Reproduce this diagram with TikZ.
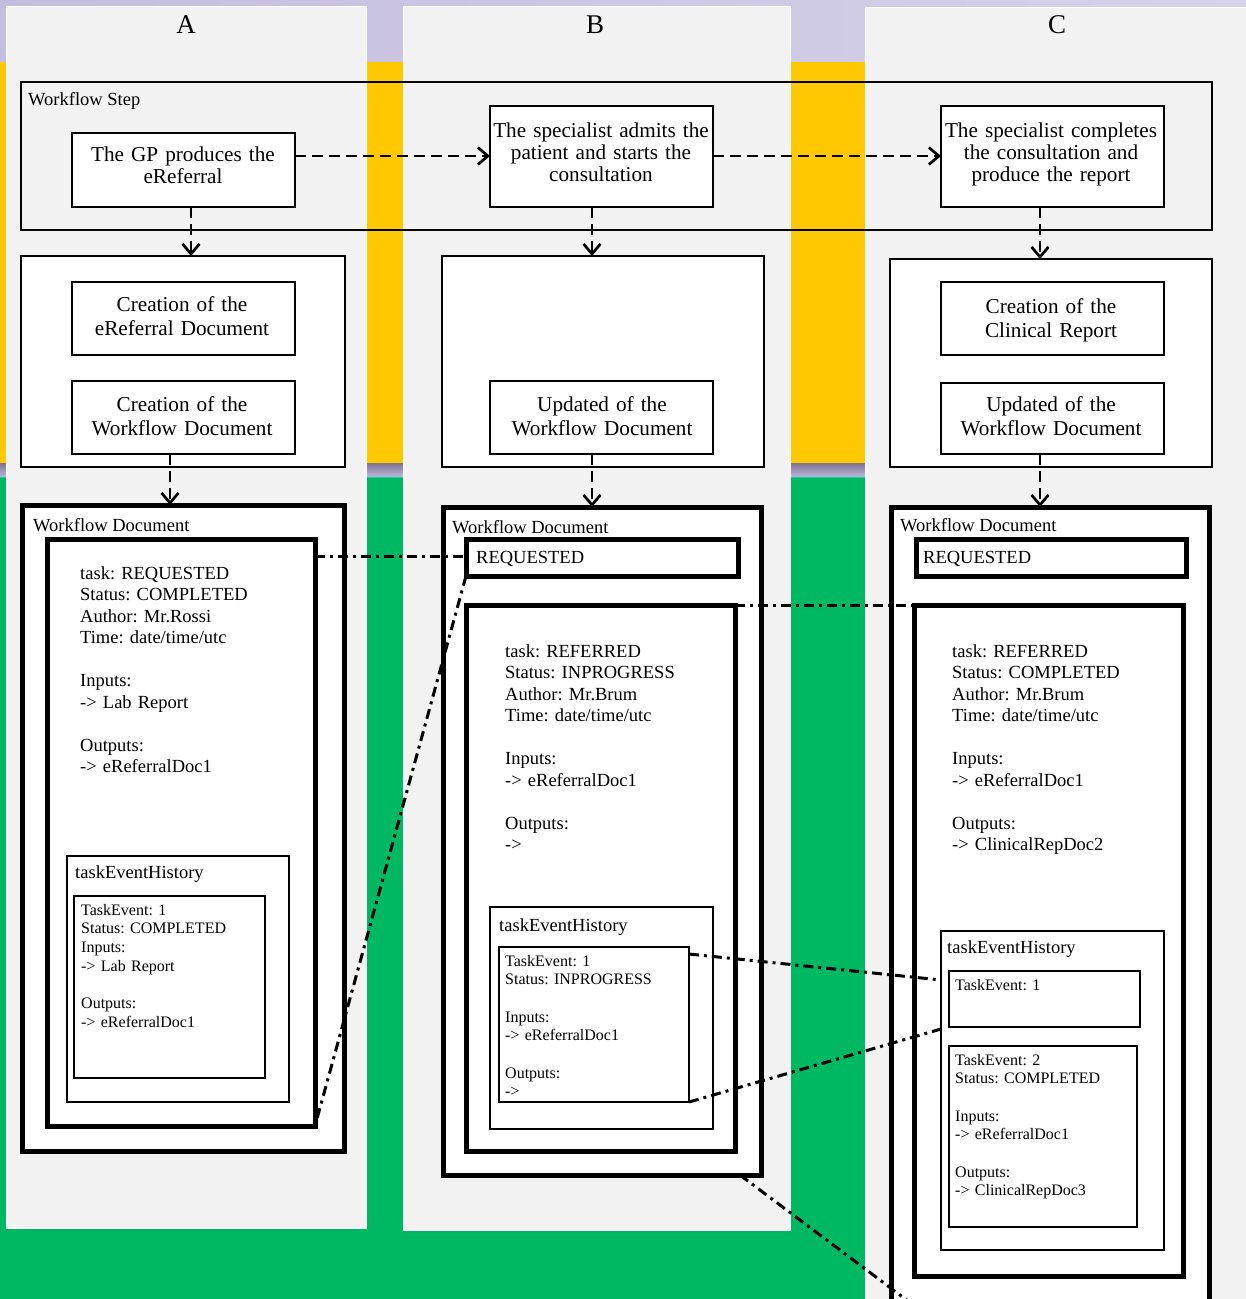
\documentclass[tikz,border=0pt]{standalone}
\usepackage{fontspec}
\setmainfont{Liberation Serif}
\usetikzlibrary{arrows.meta,calc}
\definecolor{lav}{RGB}{196,190,222}
\definecolor{lavb}{RGB}{214,210,233}
\definecolor{yel}{RGB}{255,200,0}
\definecolor{grn}{RGB}{0,184,98}
\definecolor{colg}{RGB}{242,242,242}
\definecolor{bandtop}{RGB}{125,116,145}
\definecolor{bandbot}{RGB}{190,182,218}
\definecolor{cyanl}{RGB}{20,210,160}
\newcommand\mybox[6]{\node[#1, minimum width={#4-#2}, minimum height={#5-#3}] (#6) at (#2,#3) {};}
\frenchspacing
\begin{document}
\begin{tikzpicture}[x=1pt,y=-1pt,
  thinbox/.style={rectangle, draw=black, fill=white, line width=2.7pt, inner sep=0pt, outer sep=0pt, anchor=north west},
  thickbox/.style={thinbox, line width=5pt},
  wsbox/.style={rectangle, draw=black, line width=2.4pt, inner sep=0pt, outer sep=0pt, anchor=north west},
  steptxt/.style={inner sep=0pt, anchor=base, align=center, text width=224pt, font=\fontsize{21.2}{22.3}\selectfont},
  steptxtb/.style={steptxt, font=\fontsize{21.2}{24}\selectfont},
  bodytxt/.style={inner sep=0pt, anchor=base west, align=left, text width=300pt, font=\fontsize{18.5}{21.5}\selectfont},
  smalltxt/.style={bodytxt, text width=200pt, font=\fontsize{16}{18.7}\selectfont},
  lbl/.style={inner sep=0pt, anchor=base west, font=\fontsize{18.5}{21.5}\selectfont},
  hdr/.style={inner sep=0pt, anchor=base, font=\fontsize{27}{30}\selectfont},
  arr/.style={draw=black, line width=2.7pt, dash pattern=on 11pt off 6pt, -{Straight Barb[length=10pt,width=17pt]}},
  dd/.style={draw=black, line width=3pt, dash pattern=on 10pt off 5pt on 3pt off 5pt}]
\useasboundingbox (0,0) rectangle (1246,1299);
\clip (0,0) rectangle (1246,1299);
% background bands
\shade[left color=lav, right color=lavb] (0,0) rectangle (1246,62);
\fill[yel] (0,62) rectangle (1246,463);
\shade[top color=bandtop, bottom color=bandbot] (0,463) rectangle (1246,477);
\fill[grn] (0,477) rectangle (1246,1299);
\draw[cyanl, line width=1.5pt] (0,477.5) -- (1246,477.5);
% columns
\draw[white, line width=1pt, fill=colg] (6,6) rectangle (366,1228);
\draw[white, line width=1pt, fill=colg] (403,6) rectangle (790,1230);
\draw[white, line width=1pt, fill=colg] (865,7) rectangle (1260,1320);
\node[hdr] (hA) at (186,33) {A};
\node[hdr] (hB) at (595,33) {B};
\node[hdr] (hC) at (1057,33) {C};
% workflow step
\mybox{wsbox}{21}{82}{1212}{230}{ws}
\node[lbl] (wsl) at (28,105) {Workflow Step};
\mybox{thinbox}{72}{133}{295}{207}{a1}
\mybox{thinbox}{490}{106}{713}{207}{b1}
\mybox{thinbox}{941}{106}{1164}{207}{c1}
\node[steptxt] (a1t) at (183,161) {The GP produces the\\eReferral};
\node[steptxt] (b1t) at (601,137) {The specialist admits the\\patient and starts the\\consultation};
\node[steptxt] (c1t) at (1051,137) {The specialist completes\\the consultation and\\produce the report};
% row 2
\mybox{thinbox}{21}{256}{345}{467}{a2}
\mybox{thinbox}{72}{282}{295}{355}{a2a}
\mybox{thinbox}{72}{381}{295}{454}{a2b}
\mybox{thinbox}{442}{256}{764}{467}{b2}
\mybox{thinbox}{490}{381}{713}{454}{b2b}
\mybox{thinbox}{890}{259}{1212}{467}{c2}
\mybox{thinbox}{941}{282}{1164}{355}{c2a}
\mybox{thinbox}{941}{383}{1164}{454}{c2b}
\node[steptxtb] (a2at) at (182,311) {Creation of the\\eReferral Document};
\node[steptxtb] (a2bt) at (182,411) {Creation of the\\Workflow Document};
\node[steptxtb] (b2bt) at (602,411) {Updated of the\\Workflow Document};
\node[steptxtb] (c2at) at (1051,313) {Creation of the\\Clinical Report};
\node[steptxtb] (c2bt) at (1051,411) {Updated of the\\Workflow Document};
% arrows
\draw[arr] (a1.east |- 0,156) -- (b1.west |- 0,156);
\draw[arr] (b1.east |- 0,156) -- (c1.west |- 0,156);
\draw[arr] (a1.south -| 191,0) -- (a2.north -| 191,0);
\draw[arr] (b1.south -| 592,0) -- (b2.north -| 592,0);
\draw[arr] (c1.south -| 1040,0) -- (c2.north -| 1040,0);
% row 3 A
\mybox{thickbox}{22}{505}{344}{1151}{a3}
\node[lbl] (a3l) at (33,531) {Workflow Document};
\mybox{thickbox}{47}{539}{315}{1126}{a3in}
\node[bodytxt] (a3body) at (80,579) {task: REQUESTED\\Status: COMPLETED\\Author: Mr.Rossi\\Time: date/time/utc\\[21.5pt]Inputs:\\-> Lab Report\\[21.5pt]Outputs:\\-> eReferralDoc1};
\mybox{thinbox}{67}{856}{289}{1102}{a3teh}
\node[lbl] (a3tehl) at (75,878) {taskEventHistory};
\mybox{thinbox}{74}{896}{265}{1078}{a3te}
\node[smalltxt] (a3tet) at (81,915) {TaskEvent: 1\\Status: COMPLETED\\Inputs:\\-> Lab Report\\[18.7pt]Outputs:\\-> eReferralDoc1};
% row 3 B
\mybox{thickbox}{443}{507}{761}{1175}{b3}
\node[lbl] (b3l) at (452,533) {Workflow Document};
\mybox{thickbox}{466}{539}{738}{576}{b3req}
\node[lbl] (b3reqt) at (476,563) {REQUESTED};
\mybox{thickbox}{466}{605}{735}{1151}{b3in}
\node[bodytxt] (b3body) at (505,657) {task: REFERRED\\Status: INPROGRESS\\Author: Mr.Brum\\Time: date/time/utc\\[21.5pt]Inputs:\\-> eReferralDoc1\\[21.5pt]Outputs:\\->};
\mybox{thinbox}{490}{907}{713}{1129}{b3teh}
\node[lbl] (b3tehl) at (499,931) {taskEventHistory};
\mybox{thinbox}{499}{947}{689}{1102}{b3te}
\node[smalltxt] (b3tet) at (505,966) {TaskEvent: 1\\Status: INPROGRESS\\[18.7pt]Inputs:\\-> eReferralDoc1\\[18.7pt]Outputs:\\->};
% row 3 C
\mybox{thickbox}{891}{507}{1209}{1330}{c3}
\node[lbl] (c3l) at (900,531) {Workflow Document};
\mybox{thickbox}{916}{539}{1186}{576}{c3req}
\node[lbl] (c3reqt) at (923,563) {REQUESTED};
\mybox{thickbox}{914}{605}{1183}{1276}{c3in}
\node[bodytxt] (c3body) at (952,657) {task: REFERRED\\Status: COMPLETED\\Author: Mr.Brum\\Time: date/time/utc\\[21.5pt]Inputs:\\-> eReferralDoc1\\[21.5pt]Outputs:\\-> ClinicalRepDoc2};
\mybox{thinbox}{941}{931}{1164}{1250}{c3teh}
\node[lbl] (c3tehl) at (947,953) {taskEventHistory};
\mybox{thinbox}{949}{971}{1140}{1027}{c3te1}
\node[smalltxt] (c3te1t) at (955,990) {TaskEvent: 1};
\mybox{thinbox}{949}{1046}{1137}{1227}{c3te2}
\node[smalltxt] (c3te2t) at (955,1065) {TaskEvent: 2\\Status: COMPLETED\\[18.7pt]Inputs:\\-> eReferralDoc1\\[18.7pt]Outputs:\\-> ClinicalRepDoc3};
% arrows to row 3
\draw[arr] (a2b.south -| 170,0) -- (a3.north -| 170,0);
\draw[arr] (b2b.south -| 592,0) -- (b3.north -| 592,0);
\draw[arr] (c2b.south -| 1040,0) -- (c3.north -| 1040,0);
% dash-dot links
\coordinate (off) at (1000,1370);
\draw[dd] (a3in.east |- 0,556.5) -- (b3req.west |- 0,556.5);
\draw[dd] (b3req.south west) -- (a3in.south east);
\draw[dd] (b3in.north east) -- (c3in.north west);
\draw[dd] (b3te.east |- 0,954) -- (c3teh.west |- 0,980);
\draw[dd] (b3te.south east) -- (c3teh.west |- 0,1029);
\draw[dd] (b3.south -| 740,0) -- (off);
\end{tikzpicture}
\end{document}
